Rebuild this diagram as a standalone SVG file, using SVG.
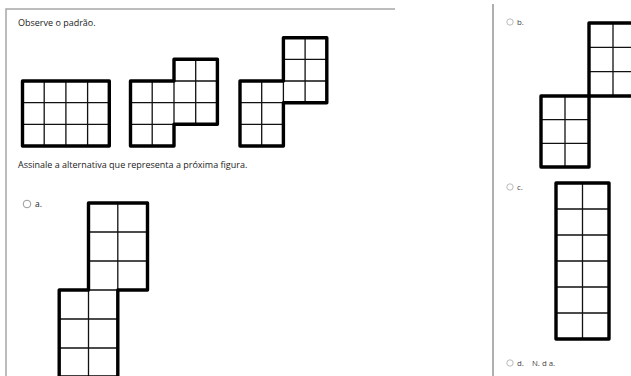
<svg xmlns="http://www.w3.org/2000/svg" width="631" height="376" viewBox="0 0 631 376">
<style>
.bg{fill:#ffffff}
.frame{stroke:#a6a6a6;stroke-width:1.5;fill:none}
.frame2{stroke:#7a7a7a;stroke-width:1.2;fill:none}
.inner{stroke:#111;stroke-width:1.3;fill:none}
.outer{stroke:#000;stroke-width:3.4;fill:none;stroke-linejoin:round;stroke-linecap:round}
.txt{font-family:"Open Sans","Noto Sans","DejaVu Sans",sans-serif;font-size:9px;fill:#1a1a1a}
.opt{font-family:"Open Sans","Noto Sans","DejaVu Sans",sans-serif;font-size:8.5px;fill:#222}
.opt2{font-family:"Open Sans","Noto Sans","DejaVu Sans",sans-serif;font-size:7.8px;fill:#444}
.radio{fill:#fff;stroke:#999;stroke-width:1}
.radio2{fill:#fff;stroke:#bbb;stroke-width:1}
</style>
<rect class="bg" x="0" y="0" width="631" height="376"/>
<g id="panels">
<path class="frame" d="M6,376 V9 H395"/>
<path class="frame2" d="M493,4 V376"/>
</g>
<g id="texts">
<text class="txt" x="18" y="26">Observe o padrão.</text>
<text class="txt" x="18" y="168">Assinale a alternativa que representa a próxima figura.</text>
</g>
<g id="figure1">
<path class="inner" d="M44.2,81 V146 M65.9,81 V146 M87.6,81 V146 M22.5,102.7 H109.3 M22.5,124.3 H109.3"/>
<rect class="outer" x="22.5" y="81" width="86.8" height="65"/>
</g>
<g id="figure2">
<path class="inner" d="M152.2,81 V146 M130.5,102.7 H174 M130.5,124.3 H174 M174,81 V124.3 M195.7,59.3 V124.3 M174,81 H217.4 M174,102.7 H217.4"/>
<path class="outer" d="M130.5,81 H174 V59.3 H217.4 V124.3 H174 V146 H130.5 Z"/>
</g>
<g id="figure3">
<path class="inner" d="M261.7,81 V146 M240,102.7 H283.4 M240,124.3 H283.4 M283.4,81 V102.7 M305.1,37.7 V102.7 M283.4,59.3 H326.8 M283.4,81 H326.8"/>
<path class="outer" d="M240,81 H283.4 V37.7 H326.8 V102.7 H283.4 V146 H240 Z"/>
</g>
<g id="optionA">
<circle class="radio" cx="27" cy="204" r="3.8"/>
<text class="opt" x="35" y="207">a.</text>
<path class="inner" d="M117.8,203 V290 M88.5,232 H147.5 M88.5,261 H147.5 M88.5,290 H117.8 M88.5,290 V377 M59.2,319 H117.8 M59.2,348 H117.8"/>
<path class="outer" d="M88.5,290 V203 H147.5 V290 H117.8 V377 H59.2 V290 Z"/>
</g>
<g id="optionB">
<circle class="radio2" cx="510" cy="22" r="3.2"/>
<text class="opt2" x="517" y="25">b.</text>
<path class="inner" d="M613,23 V96 M589,47.3 H640 M589,71.6 H640 M565,96 V167 M541,119.7 H589 M541,143.3 H589"/>
<path class="outer" d="M589,96 V23 H640 M640,96 H541 V167 H589 V96"/>
</g>
<g id="optionC">
<circle class="radio2" cx="510" cy="187" r="3.2"/>
<text class="opt2" x="517" y="190">c.</text>
<path class="inner" d="M582.5,183 V339 M556,209 H609 M556,235 H609 M556,261 H609 M556,287 H609 M556,313 H609"/>
<rect class="outer" x="556" y="183" width="53" height="156"/>
</g>
<g id="optionD">
<circle class="radio2" cx="510" cy="363" r="3.2"/>
<text class="opt2" x="517" y="366">d.</text>
<text class="opt2" x="532" y="366">N. d a.</text>
</g>
</svg>
